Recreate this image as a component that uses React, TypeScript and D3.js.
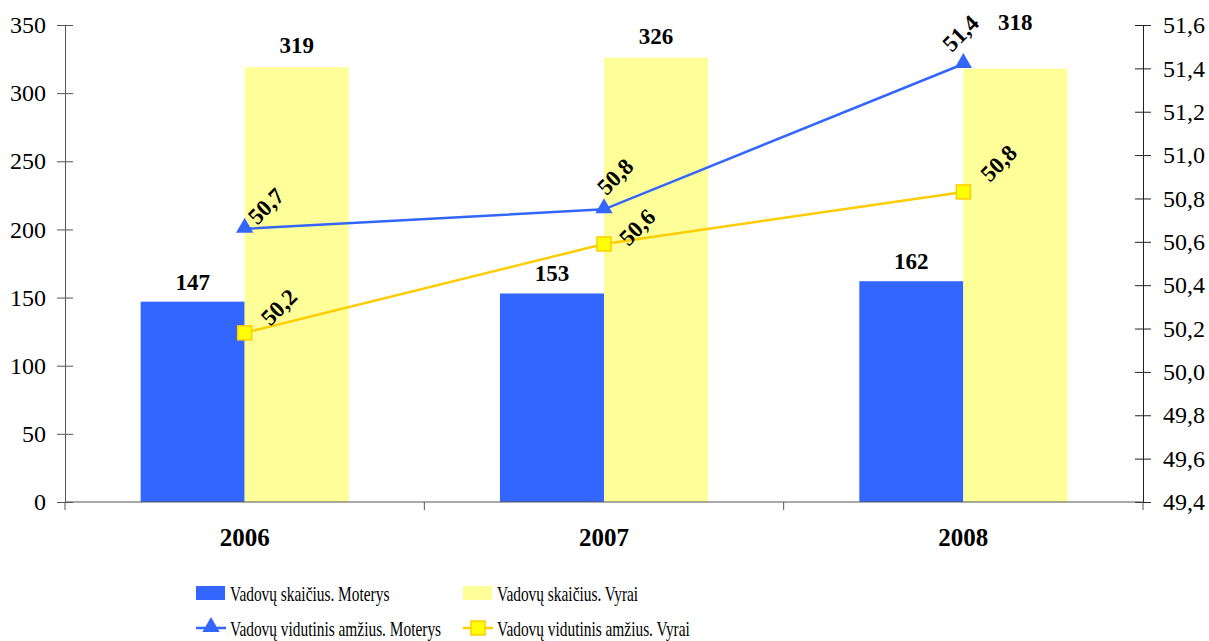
import React, { useRef, useEffect } from 'react';
import * as d3 from 'd3';

const years = ['2006', '2007', '2008'];
const countWomen = [147, 153, 162];
const countMen = [319, 326, 318];
const ageWomen = [50.66, 50.75, 51.42];
const ageMen = [50.18, 50.59, 50.83];
const leftTicks = [0, 50, 100, 150, 200, 250, 300, 350];
const rightTicks = [49.4, 49.6, 49.8, 50.0, 50.2, 50.4, 50.6, 50.8, 51.0, 51.2, 51.4, 51.6];
const seriesNames = [
  'Vadovų skaičius. Moterys',
  'Vadovų skaičius. Vyrai',
  'Vadovų vidutinis amžius. Moterys',
  'Vadovų vidutinis amžius. Vyrai',
];

// label placement nudges (like the auto-placed labels of the original)
const womenLabelOff = [[21, -23], [11, -33], [-3, -31]];
const menLabelOff = [[34, -26], [33, -17], [35, -29]];
const menCountShift = [0, 0, -25];

const W = 1209;
const H = 641;
const BLUE = '#3366ff';
const PALE = '#ffff99';
const GOLD = '#ffcc00';
const FONT = 'Liberation Serif';

const fmt = (v: number) => d3.format('.1f')(v).replace('.', ',');

const App: React.FC = () => {
  const ref = useRef<SVGSVGElement>(null);

  useEffect(() => {
    const svg = d3.select(ref.current);
    svg.selectAll('*').remove();

    const left = 65;
    const right = 1143;
    const top = 25;
    const bottom = 502;

    const x0 = d3.scaleBand().domain(years).range([left, right]).padding(0);
    const x1 = d3
      .scaleBand()
      .domain(['w', 'm'])
      .range([0, x0.bandwidth()])
      .paddingInner(0)
      .paddingOuter(0.727);
    const yL = d3.scaleLinear().domain([0, 350]).range([bottom, top]);
    const yR = d3.scaleLinear().domain([49.4, 51.6]).range([bottom, top]);
    const cx = (y: string) => (x0(y) as number) + x0.bandwidth() / 2;

    // bars
    const bars = svg.append('g');
    years.forEach((yr, i) => {
      bars
        .append('rect')
        .attr('x', (x0(yr) as number) + (x1('w') as number))
        .attr('y', yL(countWomen[i]))
        .attr('width', x1.bandwidth())
        .attr('height', bottom - yL(countWomen[i]))
        .attr('fill', BLUE);
      bars
        .append('rect')
        .attr('x', (x0(yr) as number) + (x1('m') as number))
        .attr('y', yL(countMen[i]))
        .attr('width', x1.bandwidth())
        .attr('height', bottom - yL(countMen[i]))
        .attr('fill', PALE);
    });

    // left axis
    const gl = svg
      .append('g')
      .attr('transform', `translate(${left},0)`)
      .call(d3.axisLeft(yL).tickValues(leftTicks).tickSize(8).tickPadding(11).tickSizeOuter(0))
      .attr('font-family', null)
      .attr('font-size', 24);
    gl.selectAll('.tick line').attr('x1', -8).attr('x2', 8).attr('stroke', '#555');
    gl.select('.domain').attr('stroke', '#555');
    gl.selectAll('text').attr('fill', '#000');

    // right axis
    const gr = svg
      .append('g')
      .attr('transform', `translate(${right},0)`)
      .call(d3.axisRight(yR).tickValues(rightTicks).tickFormat((d) => fmt(+d)).tickSize(8).tickPadding(12).tickSizeOuter(0))
      .attr('font-family', null)
      .attr('font-size', 24);
    gr.selectAll('.tick line').attr('x1', -8).attr('x2', 8).attr('stroke', '#222');
    gr.select('.domain').attr('stroke', '#222');
    gr.selectAll('text').attr('fill', '#000');

    // x axis
    const gx = svg.append('g');
    gx.append('line')
      .attr('x1', left).attr('x2', right).attr('y1', bottom).attr('y2', bottom)
      .attr('stroke', '#555');
    [...years.map((y) => x0(y) as number), right].forEach((xv) => {
      gx.append('line')
        .attr('x1', xv).attr('x2', xv).attr('y1', bottom).attr('y2', bottom + 8)
        .attr('stroke', '#555');
    });
    years.forEach((yr) => {
      gx.append('text')
        .attr('x', cx(yr))
        .attr('y', bottom + 44)
        .attr('text-anchor', 'middle')
        .attr('font-size', 25)
        .attr('font-weight', 'bold')
        .text(yr);
    });

    // bar labels
    years.forEach((yr, i) => {
      svg.append('text')
        .attr('x', (x0(yr) as number) + (x1('w') as number) + x1.bandwidth() / 2)
        .attr('y', yL(countWomen[i]) - 12)
        .attr('text-anchor', 'middle')
        .attr('font-size', 23).attr('font-weight', 'bold')
        .text(countWomen[i]);
      svg.append('text')
        .attr('x', (x0(yr) as number) + (x1('m') as number) + x1.bandwidth() / 2)
        .attr('y', yL(countMen[i]) - 14 + menCountShift[i])
        .attr('text-anchor', 'middle')
        .attr('font-size', 23).attr('font-weight', 'bold')
        .text(countMen[i]);
    });

    // lines
    const line = d3
      .line<number>()
      .x((_, i) => cx(years[i]))
      .y((d) => yR(d));

    svg.append('path').datum(ageWomen).attr('d', line).attr('fill', 'none').attr('stroke', BLUE).attr('stroke-width', 2.5);
    svg.append('path').datum(ageMen).attr('d', line).attr('fill', 'none').attr('stroke', GOLD).attr('stroke-width', 2.5);

    const tri = d3.symbol().type(d3.symbolTriangle).size(130);
    ageWomen.forEach((v, i) => {
      svg.append('path')
        .attr('d', tri)
        .attr('transform', `translate(${cx(years[i])},${yR(v) - 1})`)
        .attr('fill', BLUE);
    });
    ageMen.forEach((v, i) => {
      svg.append('rect')
        .attr('x', cx(years[i]) - 7)
        .attr('y', yR(v) - 7)
        .attr('width', 14)
        .attr('height', 14)
        .attr('fill', '#ffff00')
        .attr('stroke', GOLD)
        .attr('stroke-width', 1.5);
    });

    // line labels
    const addLabels = (arr: number[], offs: number[][]) => {
      arr.forEach((v, i) => {
        const px = cx(years[i]) + offs[i][0];
        const py = yR(v) + offs[i][1];
        svg.append('text')
          .attr('transform', `translate(${px},${py}) rotate(-45)`)
          .attr('text-anchor', 'middle')
          .attr('dy', '0.35em')
          .attr('font-size', 23).attr('font-weight', 'bold')
          .text(fmt(v));
      });
    };
    addLabels(ageWomen, womenLabelOff);
    addLabels(ageMen, menLabelOff);

    // legend
    const lg = svg.append('g');
    const cols = [196, 463];
    const rows = [593, 628];
    lg.append('rect').attr('x', cols[0]).attr('y', rows[0] - 7).attr('width', 29).attr('height', 14).attr('fill', BLUE);
    lg.append('rect').attr('x', cols[1]).attr('y', rows[0] - 7).attr('width', 29).attr('height', 14).attr('fill', PALE);
    lg.append('line').attr('x1', cols[0]).attr('x2', cols[0] + 30).attr('y1', rows[1]).attr('y2', rows[1]).attr('stroke', BLUE).attr('stroke-width', 2.5);
    lg.append('path').attr('d', tri).attr('transform', `translate(${cols[0] + 15},${rows[1] - 1})`).attr('fill', BLUE);
    lg.append('line').attr('x1', cols[1]).attr('x2', cols[1] + 30).attr('y1', rows[1]).attr('y2', rows[1]).attr('stroke', GOLD).attr('stroke-width', 2.5);
    lg.append('rect').attr('x', cols[1] + 8).attr('y', rows[1] - 7).attr('width', 14).attr('height', 14).attr('fill', '#ffff00').attr('stroke', GOLD).attr('stroke-width', 1.5);
    seriesNames.forEach((name, i) => {
      lg.append('text')
        .attr('transform', `translate(${cols[i % 2] + 34},${rows[Math.floor(i / 2)]}) scale(0.7,1)`)
        .attr('dy', '0.35em')
        .attr('font-size', 22)
        .text(name);
    });
  }, []);

  return (
    <svg
      ref={ref}
      width={W}
      height={H}
      fontFamily={FONT}
      style={{ position: 'absolute', left: 0, top: 0, background: '#fff' }}
    />
  );
};

export default App;
